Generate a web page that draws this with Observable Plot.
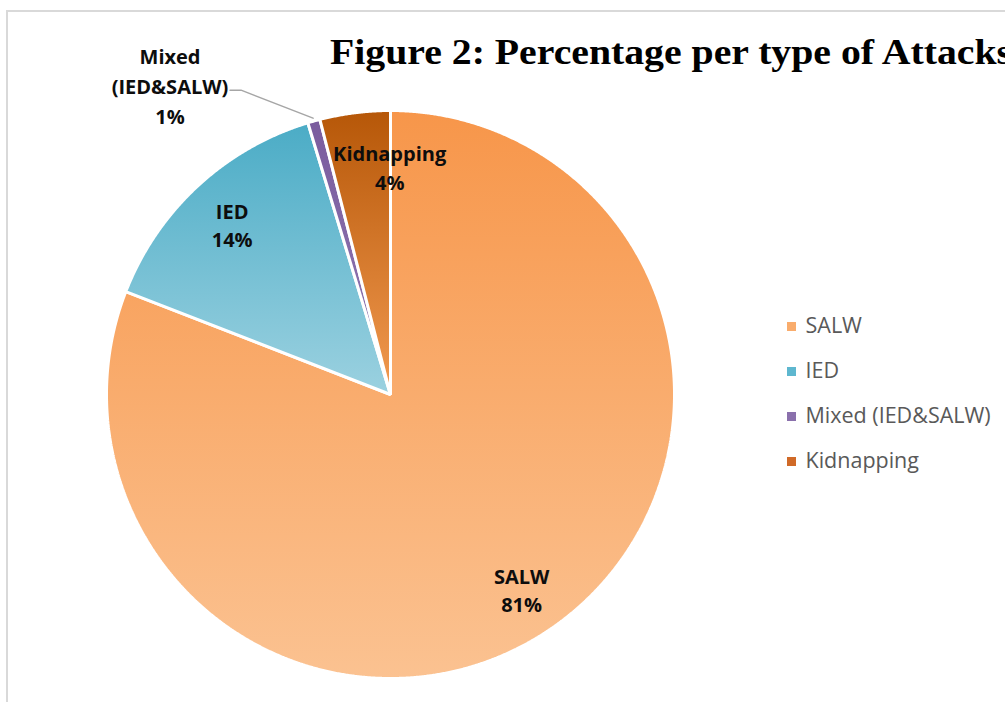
<!DOCTYPE html>
<html><head><meta charset="utf-8">
<script src="https://cdn.jsdelivr.net/npm/d3@7"></script>
<script src="https://cdn.jsdelivr.net/npm/@observablehq/plot@0.6"></script>
<style>
html,body{margin:0;padding:0;background:#fff;overflow:hidden;}
#wrap{position:relative;width:1005px;height:702px;overflow:hidden;}
#frame{position:absolute;left:6px;top:10px;width:1100px;height:800px;border-top:2px solid #d9d9d9;border-left:2px solid #d9d9d9;}
#chart{position:absolute;left:0;top:0;}
#title{position:absolute;left:330px;top:35px;font-family:"Liberation Serif",serif;font-weight:bold;font-size:35px;line-height:35px;white-space:nowrap;color:#000;transform-origin:0 0;}
</style></head><body>
<div id="wrap"><div id="frame"></div><div id="chart"></div><div id="title"></div></div>
<script>
// ---- data ----
const categories = ["SALW", "IED", "Mixed (IED&SALW)", "Kidnapping"];
const sliceLabels = ["SALW", "IED", "Mixed\n(IED&SALW)", "Kidnapping"];
const values = [80.9, 14.4, 0.7, 4.0];
const titleText = "Figure 2: Percentage per type of Attacks";

// ---- styles ----
const gradTop = ["#F7964A", "#4BACC6", "#7A5C9E", "#B65708"];
const gradBottom = ["#FBC291", "#9BD1E0", "#9179B3", "#F29A50"];
const legendColors = ["#F9AC6C", "#5EB7CF", "#8A70AC", "#D06A28"];

// ---- layout ----
const W = 1005, H = 702;
const cx = 390, cy = 394, R = 284;
const labelRadius = [0.83, 0.82, 0, 0.81];
const labelDx = [-2, 0, 0, 28];
const legendX = 791, legendTextX = 805, legendY0 = 326, legendGap = 45;
const mixedElbow = [-72, -28], mixedEnd = [-83, -28], mixedLabelOffset = [-143, -34];

document.getElementById("title").textContent = titleText;

const arcs = d3.pie().sort(null).value(d => d)(values);
const pt = (a, r) => ({x: cx + Math.sin(a) * r, y: cy - Math.cos(a) * r});

const slices = arcs.map((arc, i) => {
  const pts = [{name: categories[i], x: cx, y: cy}];
  const n = Math.max(2, Math.ceil((arc.endAngle - arc.startAngle) / 0.004));
  for (let k = 0; k <= n; k++) {
    const a = arc.startAngle + (arc.endAngle - arc.startAngle) * k / n;
    pts.push({name: categories[i], ...pt(a, R)});
  }
  return pts;
});

const inner = arcs.map((arc, i) => {
  const mid = (arc.startAngle + arc.endAngle) / 2;
  const p = pt(mid, R * labelRadius[i]);
  return {name: categories[i], text: sliceLabels[i] + "\n" + Math.round(values[i]) + "%", x: p.x + labelDx[i], y: p.y};
}).filter((d, i) => i !== 2);

const mArc = arcs[2];
const mMid = (mArc.startAngle + mArc.endAngle) / 2;
const mStart = pt(mMid, R + 3);
const leader = [
  {x: mStart.x, y: mStart.y},
  {x: mStart.x + mixedElbow[0], y: mStart.y + mixedElbow[1]},
  {x: mStart.x + mixedEnd[0], y: mStart.y + mixedEnd[1]}
];
const mixedLabel = [{text: sliceLabels[2] + "\n" + Math.round(values[2]) + "%", x: mStart.x + mixedLabelOffset[0], y: mStart.y + mixedLabelOffset[1]}];

const legend = categories.map((c, i) => ({name: c, i, x: legendX, y: legendY0 + i * legendGap}));

const defsMark = () => {
  const ns = "http://www.w3.org/2000/svg";
  const defs = document.createElementNS(ns, "defs");
  categories.forEach((c, i) => {
    const g = document.createElementNS(ns, "linearGradient");
    g.setAttribute("id", "grad" + i);
    g.setAttribute("x1", "0"); g.setAttribute("y1", "0");
    g.setAttribute("x2", "0"); g.setAttribute("y2", "1");
    [[0, gradTop[i]], [1, gradBottom[i]]].forEach(([o, col]) => {
      const s = document.createElementNS(ns, "stop");
      s.setAttribute("offset", o);
      s.setAttribute("stop-color", col);
      g.appendChild(s);
    });
    defs.appendChild(g);
  });
  return defs;
};

const chart = Plot.plot({
  width: W, height: H,
  margin: 0,
  x: {domain: [0, W], range: [0, W], axis: null},
  y: {domain: [0, H], range: [0, H], axis: null},
  style: {background: "transparent", overflow: "visible"},
  marks: [
    defsMark,
    ...slices.map((pts, i) => Plot.line(pts, {x: "x", y: "y", curve: "linear-closed", fill: `url(#grad${i})`, stroke: "white", strokeWidth: 3, strokeLinejoin: "miter"})),
    Plot.line(leader, {x: "x", y: "y", stroke: "#a6a6a6", strokeWidth: 1.5}),
    Plot.text(inner, {x: "x", y: "y", text: "text", fontFamily: "Open Sans", fontWeight: "bold", fontSize: 20, lineHeight: 1.42, fill: "#0d0d0d"}),
    Plot.text(mixedLabel, {x: "x", y: "y", text: "text", fontFamily: "Open Sans", fontWeight: "bold", fontSize: 20, lineHeight: 1.5, fill: "#0d0d0d"}),
    Plot.dot(legend, {x: "x", y: "y", symbol: "square", r: 5.1, fill: (d) => legendColors[d.i], stroke: null}),
    Plot.text(legend, {x: legendTextX, y: "y", text: "name", textAnchor: "start", fontFamily: "Open Sans", fontSize: 21.5, fill: "#595959"})
  ]
});
document.getElementById("chart").appendChild(chart);

const t = document.getElementById("title");
const w = t.getBoundingClientRect().width;
t.style.transform = `scaleX(${682 / w})`;
</script>
</body></html>
